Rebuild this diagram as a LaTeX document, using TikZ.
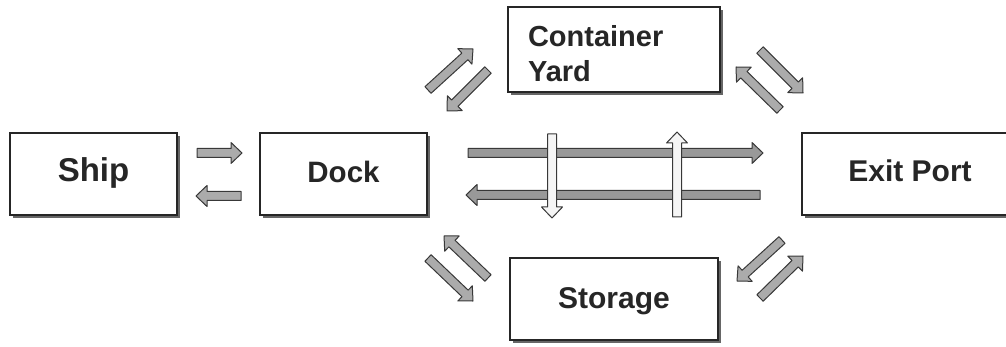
\documentclass[tikz,border=0pt]{standalone}
\usepackage{fontspec}
\setmainfont{Liberation Sans}
\usetikzlibrary{calc,shadows}

\tikzset{
  box/.style={draw=black!85, line width=1.4pt, fill=white,
    font=\bfseries, text=black!85,
    minimum height=82pt, inner sep=0pt,
    drop shadow={shadow xshift=3pt, shadow yshift=-3pt, fill=black!60, opacity=1}},
  flow/.style={draw=black!78, line width=1pt, fill=black!33, line join=round},
  mainflow/.style={flow, fill=black!40},
  crossflow/.style={flow, fill=black!4},
}

% block arrow from #2 to #3: shaft 9pt, head 21pt wide and 11pt long
\newcommand\blockarrow[3][]{%
  \coordinate (neck) at ($(#3)!11pt!(#2)$);
  \draw[flow,#1] ($(#2)!4.5pt!90:(#3)$) -- ($(neck)!4.5pt!-90:(#2)$)
    -- ($(neck)!10.5pt!-90:(#2)$) -- (#3) -- ($(neck)!10.5pt!90:(#2)$)
    -- ($(neck)!4.5pt!90:(#2)$) -- ($(#2)!4.5pt!-90:(#3)$) -- cycle;
}

\begin{document}
\begin{tikzpicture}[x=1pt, y=-1pt]
  \useasboundingbox (0,0) rectangle (1006,347);
  \clip (0,0) rectangle (1006,347);

  % stations
  \node[box, minimum width=167pt, font=\fontsize{33}{40}\selectfont\bfseries,
        text height=23.6pt, text depth=7.6pt] (ship) at (93.5,174) {Ship};
  \node[box, minimum width=167pt, font=\fontsize{29.5}{35}\selectfont\bfseries,
        text height=21pt, text depth=3pt] (dock) at (343.5,174) {Dock};
  \node[box, minimum width=212pt, minimum height=85pt, text width=172pt, align=left,
        font=\fontsize{29}{35}\selectfont\bfseries, text height=20pt, text depth=25pt]
    (yard) at (614,49.5) {Container\\Yard};
  \node[box, minimum width=208pt, font=\fontsize{30}{36}\selectfont\bfseries,
        text height=21.5pt, text depth=3.5pt] (storage) at (614,299) {Storage};
  \node[box, minimum width=216pt, font=\fontsize{30}{36}\selectfont\bfseries,
        text height=21.5pt, text depth=5.5pt] (exit) at (910,174) {Exit Port};

  % ship <-> dock
  \coordinate (sdA) at (197,153); \coordinate (sdB) at (242,153);
  \coordinate (dsA) at (241,196); \coordinate (dsB) at (196,196);
  \blockarrow{sdA}{sdB}
  \blockarrow{dsA}{dsB}

  % dock <-> container yard
  \coordinate (dyA) at (428,90); \coordinate (dyB) at (473,49);
  \coordinate (ydA) at (488,70); \coordinate (ydB) at (447,111);
  \blockarrow{dyA}{dyB}
  \blockarrow{ydA}{ydB}

  % container yard <-> exit port
  \coordinate (yeA) at (760,50); \coordinate (yeB) at (803,93);
  \coordinate (eyA) at (780,110); \coordinate (eyB) at (736,67);
  \blockarrow{yeA}{yeB}
  \blockarrow{eyA}{eyB}

  % dock <-> storage
  \coordinate (sdkA) at (488,278); \coordinate (sdkB) at (444,236);
  \coordinate (dstA) at (428,258); \coordinate (dstB) at (473,301);
  \blockarrow{sdkA}{sdkB}
  \blockarrow{dstA}{dstB}

  % storage <-> exit port
  \coordinate (esA) at (782,240); \coordinate (esB) at (737,281);
  \coordinate (seA) at (760,298); \coordinate (seB) at (803,256);
  \blockarrow{esA}{esB}
  \blockarrow{seA}{seB}

  % main flow dock <-> exit port
  \coordinate (deA) at (468,153); \coordinate (deB) at (763,153);
  \coordinate (edA) at (760,195); \coordinate (edB) at (466,195);
  \blockarrow[mainflow]{deA}{deB}
  \blockarrow[mainflow]{edA}{edB}

  % cross flows between yard and storage
  \coordinate (ysA) at (552,134); \coordinate (ysB) at (552,218);
  \coordinate (syA) at (677,217); \coordinate (syB) at (677,132);
  \blockarrow[crossflow]{ysA}{ysB}
  \blockarrow[crossflow]{syA}{syB}
\end{tikzpicture}
\end{document}
